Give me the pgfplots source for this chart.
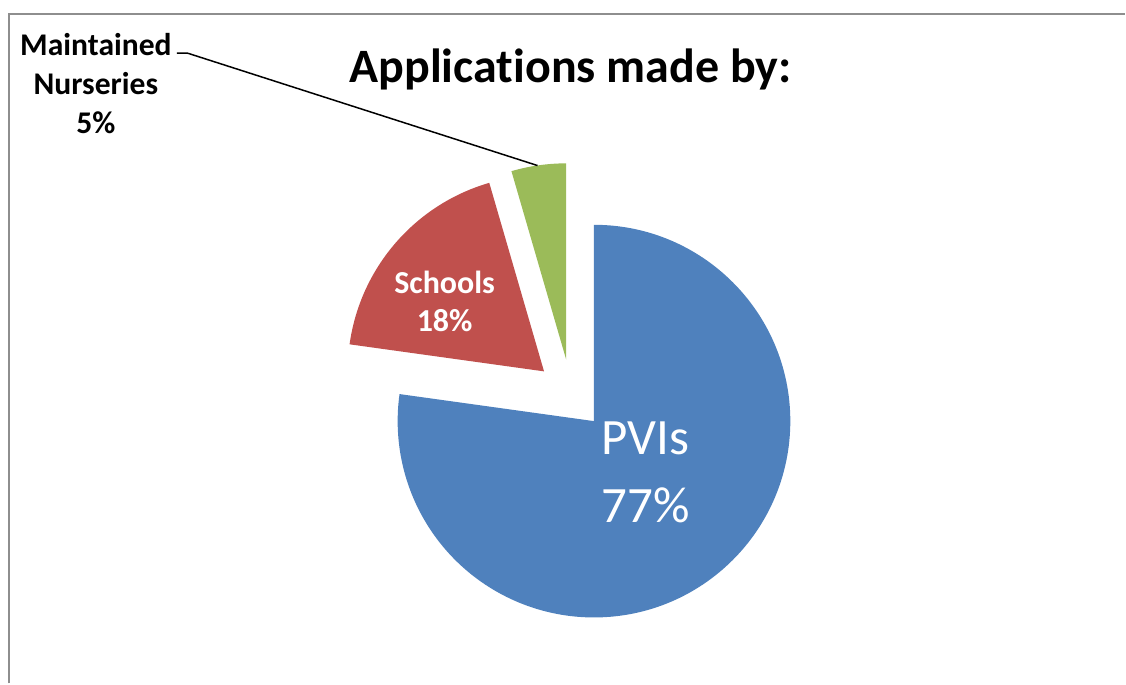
\documentclass[border=0pt]{standalone}
\usepackage{pgfplots}
\pgfplotsset{compat=1.18}
\usepackage{fontspec}
\setmainfont{Carlito}[Ligatures=NoCommon]
\definecolor{pviblue}{HTML}{4F81BD}
\definecolor{schred}{HTML}{C0504D}
\definecolor{mngreen}{HTML}{9BBB59}
\definecolor{framegray}{HTML}{8E8E8E}
% data (percent of applications)
\def\valPVI{77.2}
\def\valSch{18.3}
\def\valMN{4.5}
% radius in axis units (1 unit = 0.5pt)
\def\rad{196.5}
\newcommand{\pieslice}[5]{% color, cx, cy, start angle, value
  \fill[#1] (axis cs:#2,#3) -- (axis cs:{#2+\rad*cos(#4)},{#3+\rad*sin(#4)})
    arc[start angle=#4, delta angle={-3.6*#5}, radius=98.25pt] -- cycle;
}
\begin{document}
\begin{tikzpicture}
\pgfmathsetmacro\angA{90}
\pgfmathsetmacro\angB{90-3.6*\valPVI}
\pgfmathsetmacro\angC{\angB-3.6*\valSch}
\begin{axis}[
  scale only axis, width=563pt, height=342pt,
  xmin=0, xmax=1126, ymin=0, ymax=684,
  hide axis, clip=false,
]
\addplot[draw=none, forget plot] coordinates {(0,0) (1126,684)};
\path (axis cs:0,0) rectangle (axis cs:1126,684);
% frame
\draw[framegray, line width=1pt] (axis cs:9,0) -- (axis cs:9,670) -- (axis cs:1126,670);
% slices
\pieslice{pviblue}{594.5}{262.5}{\angA}{\valPVI}
\pieslice{schred}{544.5}{312.3}{\angB}{\valSch}
\pieslice{mngreen}{566.7}{324}{\angC}{\valMN}
% title
\node[anchor=base, font=\fontsize{24}{28}\selectfont\bfseries] at (axis cs:571,601) {Applications made by:};
% leader line
\draw[black, line width=0.75pt] (axis cs:177,630.7) -- (axis cs:188,630.7) -- (axis cs:538,518.3);
% Maintained label
\node[anchor=base, font=\fontsize{15.8}{19}\selectfont\bfseries] at (axis cs:96,628) {Maintained};
\node[anchor=base, font=\fontsize{15.8}{19}\selectfont\bfseries] at (axis cs:96,589) {Nurseries};
\node[anchor=base, font=\fontsize{15.8}{19}\selectfont\bfseries] at (axis cs:96,550) {5\%};
% Schools label
\node[anchor=base, white, font=\fontsize{16}{19}\selectfont\bfseries] at (axis cs:445,390.7) {Schools};
\node[anchor=base, white, font=\fontsize{16}{19}\selectfont\bfseries] at (axis cs:445,352.3) {18\%};
% PVIs label
\node[anchor=base, white, font=\fontsize{25.5}{30}\selectfont] at (axis cs:646,229) {PVIs};
\node[anchor=base, white, font=\fontsize{25.5}{30}\selectfont] at (axis cs:646,161) {77\%};
\end{axis}
\end{tikzpicture}
\end{document}
